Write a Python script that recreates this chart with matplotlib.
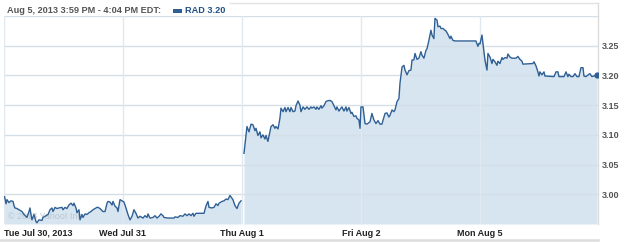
import matplotlib
matplotlib.use("Agg")
import matplotlib.pyplot as plt
from matplotlib.patches import Rectangle
from matplotlib.lines import Line2D

# ---------------- data ----------------
day_labels = ["Tue Jul 30, 2013", "Wed Jul 31", "Thu Aug 1", "Fri Aug 2", "Mon Aug 5"]
y_ticks = [3.00, 3.05, 3.10, 3.15, 3.20, 3.25]
title_text = "Aug 5, 2013 3:59 PM - 4:04 PM EDT:"
symbol = "RAD"
last_price = 3.20
watermark = "\u00a9 2013 Yahoo! Inc"

# time in trading days (0 = Tue Jul 30 open)
jul30_t = [0.005, 0.017, 0.025, 0.042, 0.059, 0.076, 0.084, 0.092, 0.109, 0.126, 0.151, 0.168, 0.193,
           0.210, 0.218, 0.227, 0.235, 0.252, 0.269, 0.277, 0.294, 0.319, 0.328, 0.353, 0.370, 0.387,
           0.403, 0.412, 0.429, 0.445, 0.462, 0.487, 0.496, 0.513, 0.529, 0.546, 0.563, 0.580, 0.588,
           0.605, 0.613, 0.630, 0.639, 0.655, 0.664, 0.681, 0.697, 0.714, 0.731, 0.748, 0.765, 0.782,
           0.790, 0.807, 0.832, 0.849, 0.866, 0.874, 0.891, 0.908, 0.916, 0.933, 0.950, 0.958, 0.975]
jul30_p = [2.996, 2.984, 2.991, 2.986, 2.989, 2.988, 2.981, 2.977, 2.976, 2.974, 2.971, 2.966, 2.961,
           2.971, 2.977, 2.966, 2.957, 2.966, 2.954, 2.952, 2.957, 2.956, 2.961, 2.964, 2.966, 2.974,
           2.977, 2.971, 2.978, 2.976, 2.977, 2.978, 2.974, 2.978, 2.976, 2.982, 2.985, 2.981, 2.985,
           2.977, 2.969, 2.974, 2.957, 2.966, 2.961, 2.967, 2.966, 2.969, 2.971, 2.974, 2.976, 2.978,
           2.978, 2.976, 2.971, 2.971, 2.985, 2.988, 2.987, 2.982, 2.988, 2.980, 2.977, 2.971, 2.991]

jul31_t = [1.000, 1.008, 1.025, 1.042, 1.059, 1.076, 1.092, 1.109, 1.126, 1.143, 1.168, 1.185, 1.202,
           1.210, 1.227, 1.252, 1.269, 1.286, 1.303, 1.319, 1.336, 1.345, 1.378, 1.403, 1.429, 1.437,
           1.462, 1.479, 1.504, 1.521, 1.538, 1.555, 1.571, 1.588, 1.597, 1.613, 1.639, 1.681, 1.697,
           1.714, 1.723, 1.748, 1.765, 1.782, 1.798, 1.807, 1.832, 1.849, 1.866, 1.882, 1.899, 1.924,
           1.941, 1.958, 1.975, 1.992]
jul31_p = [2.988, 2.987, 2.977, 2.966, 2.957, 2.963, 2.974, 2.968, 2.960, 2.963, 2.960, 2.964, 2.961,
           2.967, 2.960, 2.961, 2.964, 2.960, 2.963, 2.967, 2.964, 2.961, 2.960, 2.960, 2.960, 2.962,
           2.961, 2.964, 2.963, 2.967, 2.964, 2.967, 2.964, 2.968, 2.963, 2.968, 2.968, 2.968, 2.980,
           2.988, 2.978, 2.977, 2.978, 2.984, 2.981, 2.985, 2.988, 2.989, 2.992, 2.991, 2.998, 2.991,
           2.981, 2.976, 2.985, 2.989]

aug1_t = [2.017, 2.034, 2.042, 2.059, 2.076, 2.092, 2.109, 2.118, 2.134, 2.151, 2.160, 2.176, 2.193,
          2.202, 2.218, 2.235, 2.244, 2.261, 2.277, 2.286, 2.303, 2.319, 2.328, 2.345, 2.361, 2.370,
          2.387, 2.403, 2.412, 2.429, 2.445, 2.454, 2.471, 2.487, 2.496, 2.513, 2.529, 2.546, 2.563,
          2.580, 2.588, 2.605, 2.622, 2.630, 2.647, 2.664, 2.672, 2.689, 2.706, 2.714, 2.739, 2.756,
          2.773, 2.790, 2.798, 2.815, 2.832, 2.840, 2.857, 2.874, 2.882, 2.899, 2.916, 2.924, 2.941,
          2.958, 2.966, 2.983, 2.992]
aug1_p = [3.069, 3.100, 3.114, 3.105, 3.118, 3.117, 3.107, 3.111, 3.099, 3.105, 3.095, 3.100, 3.093,
          3.099, 3.089, 3.105, 3.114, 3.117, 3.111, 3.114, 3.110, 3.128, 3.145, 3.139, 3.146, 3.139,
          3.146, 3.139, 3.146, 3.139, 3.140, 3.149, 3.157, 3.150, 3.139, 3.147, 3.143, 3.147, 3.143,
          3.147, 3.145, 3.147, 3.143, 3.147, 3.143, 3.149, 3.145, 3.149, 3.156, 3.157, 3.158, 3.156,
          3.149, 3.142, 3.147, 3.140, 3.145, 3.147, 3.140, 3.147, 3.140, 3.146, 3.136, 3.138, 3.131,
          3.132, 3.128, 3.125, 3.111]

aug2_t = [3.000, 3.017, 3.034, 3.050, 3.076, 3.092, 3.109, 3.126, 3.143, 3.160, 3.176, 3.202, 3.218,
          3.235, 3.244, 3.261, 3.277, 3.286, 3.303, 3.319, 3.328, 3.345, 3.361, 3.370, 3.387, 3.403,
          3.420, 3.429, 3.445, 3.454, 3.471, 3.487, 3.504, 3.513, 3.529, 3.546, 3.555, 3.571, 3.588,
          3.597, 3.613, 3.622, 3.639, 3.647, 3.664, 3.672, 3.689, 3.706, 3.714, 3.731, 3.748, 3.756,
          3.773, 3.790, 3.966, 3.983, 3.992]
aug2_p = [3.147, 3.147, 3.119, 3.118, 3.122, 3.136, 3.125, 3.119, 3.124, 3.118, 3.118, 3.136, 3.137,
          3.130, 3.133, 3.142, 3.139, 3.142, 3.156, 3.161, 3.187, 3.214, 3.217, 3.209, 3.201, 3.208,
          3.209, 3.226, 3.226, 3.237, 3.227, 3.229, 3.240, 3.234, 3.229, 3.242, 3.245, 3.259, 3.276,
          3.268, 3.262, 3.296, 3.293, 3.282, 3.283, 3.279, 3.279, 3.276, 3.275, 3.269, 3.262, 3.266,
          3.259, 3.258, 3.258, 3.249, 3.254]

aug5_t = [4.000, 4.017, 4.025, 4.042, 4.059, 4.067, 4.084, 4.101, 4.109, 4.126, 4.143, 4.151, 4.168,
          4.185, 4.193, 4.210, 4.227, 4.235, 4.252, 4.269, 4.303, 4.319, 4.336, 4.353, 4.361, 4.445,
          4.454, 4.471, 4.487, 4.496, 4.504, 4.521, 4.538, 4.546, 4.622, 4.639, 4.655, 4.664, 4.706,
          4.723, 4.739, 4.748, 4.765, 4.782, 4.798, 4.815, 4.832, 4.849, 4.866, 4.874, 4.891, 4.916,
          4.924, 4.941, 4.958, 4.983]
aug5_p = [3.253, 3.268, 3.254, 3.226, 3.209, 3.237, 3.231, 3.220, 3.227, 3.223, 3.217, 3.224, 3.220,
          3.230, 3.227, 3.230, 3.229, 3.236, 3.231, 3.229, 3.229, 3.232, 3.227, 3.224, 3.219, 3.220,
          3.223, 3.216, 3.206, 3.199, 3.206, 3.201, 3.206, 3.199, 3.198, 3.206, 3.206, 3.198, 3.198,
          3.206, 3.198, 3.202, 3.198, 3.198, 3.203, 3.198, 3.198, 3.213, 3.213, 3.199, 3.198, 3.202,
          3.203, 3.198, 3.199, 3.200]

# ---------------- styling ----------------
W, H = 625, 242
LINE = "#2f5f94"
FILL = "#d6e5f0"
FONT = "Liberation Sans"
YMIN, YMAX = 2.95, 3.30

seg_a_t = jul30_t + jul31_t
seg_a_p = jul30_p + jul31_p
seg_b_t = aug1_t + aug2_t + aug5_t
seg_b_p = aug1_p + aug2_p + aug5_p

fig = plt.figure(figsize=(W / 100, H / 100), dpi=100)
fig.patch.set_facecolor("white")
L, R, T, B = 4, 598, 16, 224
ax = fig.add_axes([L / W, 1 - B / H, (R - L) / W, (B - T) / H])
ax.set_facecolor("white")

for tt, pp in ((seg_a_t, seg_a_p), (seg_b_t, seg_b_p)):
    n = min(len(tt), len(pp))
    ax.fill_between(tt[:n], pp[:n], YMIN, color=FILL, lw=0, zorder=1)
    ax.plot(tt[:n], pp[:n], color=LINE, lw=1.0, zorder=3, solid_joinstyle="round")
ax.plot([seg_b_t[-1]], [seg_b_p[-1]], "o", color=LINE, ms=3.5, zorder=4)

ax.set_xlim(0, 4.992)
ax.set_ylim(YMIN, YMAX)

# grid
for yv in y_ticks + [YMAX]:
    ax.axhline(yv, color="#d4dfe8", lw=1.0, zorder=2)
for xv in range(len(day_labels)):
    ax.axvline(xv, color="#e1e9f0", lw=1.0, zorder=2)

for s in ("top", "bottom", "left"):
    ax.spines[s].set_visible(False)
ax.spines["right"].set_color("#dcdcdc")
ax.spines["right"].set_linewidth(1.0)

ax.yaxis.tick_right()
ax.set_yticks(y_ticks)
ax.set_yticklabels([f"{v:.2f}" for v in y_ticks])
ax.set_xticks(list(range(len(day_labels))))
ax.set_xticklabels(day_labels)
ax.tick_params(axis="both", length=0)
ax.tick_params(axis="y", pad=2.8)
ax.tick_params(axis="x", pad=3.3)
for lab in ax.get_yticklabels():
    lab.set_fontfamily(FONT)
    lab.set_fontweight("bold")
    lab.set_fontsize(6.5)
    lab.set_color("#555555")
for lab in ax.get_xticklabels():
    lab.set_fontfamily(FONT)
    lab.set_fontweight("bold")
    lab.set_fontsize(6.5)
    lab.set_color("#222222")
ax.get_xticklabels()[0].set_horizontalalignment("left")

# watermark
ax.text(0.007, 0.034, watermark, transform=ax.transAxes, ha="left", va="center",
        fontsize=6.5, color="#bcc7d0", family=FONT, zorder=2.5)

# header
fig.text(7 / W, 1 - 10.5 / H, title_text, ha="left", va="center", fontsize=6.6,
         weight="bold", color="#555555", family=FONT)
fig.add_artist(Rectangle((173 / W, 1 - 12.5 / H), 9 / W, 3.5 / H, transform=fig.transFigure,
                         facecolor=LINE, edgecolor="none"))
fig.text(185 / W, 1 - 10.5 / H, f"{symbol} {last_price:.2f}", ha="left", va="center",
         fontsize=6.6, weight="bold", color="#1f4f86", family=FONT)

# frame decorations
fig.add_artist(Line2D([230 / W, R / W], [1 - 3 / H, 1 - 3 / H], transform=fig.transFigure,
                      color="#e2e2e2", lw=1.0))
fig.add_artist(Line2D([R / W, R / W], [1 - 3 / H, 1 - T / H], transform=fig.transFigure,
                      color="#dcdcdc", lw=1.0))
fig.add_artist(Line2D([0, R / W], [1 - 240 / H, 1 - 240 / H], transform=fig.transFigure,
                      color="#dddddd", lw=1.8))

fig.savefig("out.png", dpi=100, facecolor="white")
